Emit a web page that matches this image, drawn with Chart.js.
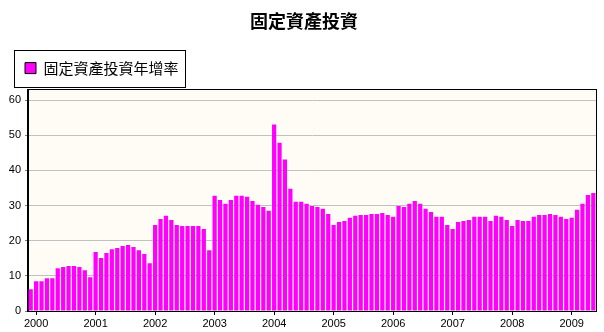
<!DOCTYPE html>
<html>
<head>
<meta charset="utf-8">
<title>固定資產投資</title>
<script src="https://cdn.jsdelivr.net/npm/chart.js@4.4.1/dist/chart.umd.min.js"></script>
<style>
  body { margin: 0; background: #fff; }
  #chart { display: block; }
</style>
</head>
<body>
<canvas id="chart" width="604" height="332"></canvas>
<script>
// ==========================================
// 1. DADOS
// ==========================================
const chartTitle = '固定資產投資';
const seriesName = '固定資產投資年增率';

// jan e fev saem juntos, por isso cada ano começa em '02'
const years = [2000, 2001, 2002, 2003, 2004, 2005, 2006, 2007, 2008, 2009];
const reportMonths = ['02', '03', '04', '05', '06', '07', '08', '09', '10', '11', '12'];
const lastYearMonths = ['02', '03', '04', '05', '06'];
const firstPeriod = '1999-12';

const growth1999 = [6.2];
const growth2000 = [8.5, 8.5, 9.3, 9.3, 12.2, 12.5, 12.8, 12.8, 12.5, 11.6, 9.6];
const growth2001 = [16.8, 15.1, 16.5, 17.6, 17.9, 18.5, 18.8, 18.2, 17.3, 16.2, 13.6];
const growth2002 = [24.5, 26.2, 27.1, 25.9, 24.5, 24.2, 24.2, 24.2, 24.2, 23.3, 17.3];
const growth2003 = [32.8, 31.6, 30.5, 31.6, 32.8, 32.8, 32.5, 31.3, 30.2, 29.6, 28.5];
const growth2004 = [53.1, 47.9, 43.1, 34.8, 31.1, 31.1, 30.5, 29.9, 29.6, 29.1, 27.6];
const growth2005 = [24.5, 25.3, 25.6, 26.5, 27.1, 27.3, 27.3, 27.6, 27.6, 27.9, 27.3];
const growth2006 = [26.8, 29.9, 29.6, 30.5, 31.3, 30.5, 29.1, 28.2, 26.8, 26.8, 24.5];
const growth2007 = [23.3, 25.3, 25.6, 25.9, 26.8, 26.8, 26.8, 25.6, 27.1, 26.8, 25.9];
const growth2008 = [24.2, 25.9, 25.6, 25.6, 26.8, 27.3, 27.3, 27.6, 27.3, 26.8, 26.2];
const growth2009 = [26.5, 28.8, 30.5, 33.0, 33.6];

const yTicks = [0, 10, 20, 30, 40, 50, 60];

// monta os rótulos das categorias (ano-mês)
const periods = [firstPeriod];
years.forEach(function (y) {
    const months = y === 2009 ? lastYearMonths : reportMonths;
    months.forEach(function (m) { periods.push(y + '-' + m); });
});

const growth = [].concat(growth1999, growth2000, growth2001, growth2002, growth2003,
    growth2004, growth2005, growth2006, growth2007, growth2008, growth2009);

// ==========================================
// 2. PLUGINS (fundo da área, moldura e caixa da legenda)
// ==========================================
const LEGEND_SHIFT_X = 4;  // legenda um pouco para dentro
const LEGEND_SHIFT_Y = -4; // e um pouco acima, deixando folga antes do gráfico
const TITLE_SHIFT_X = 6;   // o título original fica centrado na janela toda

const plotFrame = {
    id: 'plotFrame',
    afterLayout(chart) {
        const lg = chart.legend;
        lg.left += LEGEND_SHIFT_X;
        lg.right += LEGEND_SHIFT_X;
        lg.top += LEGEND_SHIFT_Y;
        lg.bottom += LEGEND_SHIFT_Y;
        if (chart.titleBlock) {
            chart.titleBlock.left += TITLE_SHIFT_X;
            chart.titleBlock.right += TITLE_SHIFT_X;
        }
    },
    beforeDraw(chart) {
        const a = chart.chartArea;
        const ctx = chart.ctx;
        ctx.save();
        ctx.fillStyle = '#FEFCF4';
        ctx.fillRect(a.left, a.top, a.right - a.left, a.bottom - a.top);
        ctx.restore();
    },
    afterDraw(chart) {
        const a = chart.chartArea;
        const ctx = chart.ctx;
        ctx.save();
        ctx.strokeStyle = '#000';
        ctx.lineWidth = 1;
        ctx.strokeRect(Math.round(a.left) - 0.5, Math.round(a.top) - 0.5,
            Math.round(a.right - a.left) + 1, Math.round(a.bottom - a.top) + 1);

        // caixa em volta da legenda
        const hb = chart.legend.legendHitBoxes[0];
        if (hb) {
            const cy = hb.top + hb.height / 2;
            const x0 = Math.round(hb.left - 11) + 0.5;
            const y0 = Math.round(cy - 18) + 0.5;
            const x1 = Math.round(hb.left + hb.width + 6) + 0.5;
            const y1 = Math.round(cy + 19) + 0.5;
            ctx.strokeRect(x0, y0, x1 - x0, y1 - y0);
        }
        ctx.restore();
    }
};

// ==========================================
// 3. GRÁFICO
// ==========================================
const cjk = "'Noto Sans CJK TC', 'Noto Sans CJK SC', sans-serif";
const latin = "'Liberation Sans', Arial, sans-serif";

const ctx = document.getElementById('chart').getContext('2d');
const chart = new Chart(ctx, {
    type: 'bar',
    data: {
        labels: periods,
        datasets: [{
            label: seriesName,
            data: growth,
            backgroundColor: '#FF00FF',
            borderWidth: 0,
            barPercentage: 0.78,
            categoryPercentage: 1.0
        }]
    },
    options: {
        responsive: false,
        animation: false,
        devicePixelRatio: 1,
        layout: { padding: { left: 0, right: 8, top: 0, bottom: 0 } },
        plugins: {
            title: {
                display: true,
                text: chartTitle,
                color: '#000',
                font: { family: cjk, size: 18, weight: 'bold' },
                padding: { top: 10, bottom: 12 }
            },
            legend: {
                display: true,
                position: 'top',
                align: 'start',
                labels: {
                    color: '#000',
                    font: { family: cjk, size: 15 },
                    boxWidth: 11,
                    boxHeight: 11,
                    padding: 21,
                    generateLabels(c) {
                        const items = Chart.defaults.plugins.legend.labels.generateLabels(c);
                        items.forEach(function (it) {
                            it.strokeStyle = '#000';
                            it.lineWidth = 1;
                        });
                        return items;
                    }
                }
            },
            tooltip: { enabled: false }
        },
        scales: {
            x: {
                type: 'category',
                offset: true,
                grid: {
                    display: true,
                    drawOnChartArea: false,
                    offset: false,
                    tickLength: 4,
                    tickColor: '#000'
                },
                border: { display: true, color: '#000' },
                ticks: {
                    autoSkip: false,
                    maxRotation: 0,
                    padding: 2,
                    color: '#000',
                    font: { family: latin, size: 11 },
                    callback: function (value) {
                        const lab = this.getLabelForValue(value);
                        return lab.endsWith('-02') ? lab.slice(0, 4) : null;
                    }
                },
                afterFit(scale) { scale.height = 21; }
            },
            y: {
                min: 0,
                max: 63,
                grid: {
                    color: '#C0C0C0',
                    tickColor: '#808080',
                    tickLength: 3
                },
                border: { display: true, color: '#000' },
                ticks: {
                    stepSize: 10,
                    includeBounds: false,
                    padding: 4,
                    color: '#000',
                    font: { family: latin, size: 11 },
                    callback: function (v) { return yTicks.includes(v) ? String(v) : null; }
                },
                afterFit(scale) { scale.width = 28; }
            }
        }
    },
    plugins: [plotFrame]
});
</script>
</body>
</html>
